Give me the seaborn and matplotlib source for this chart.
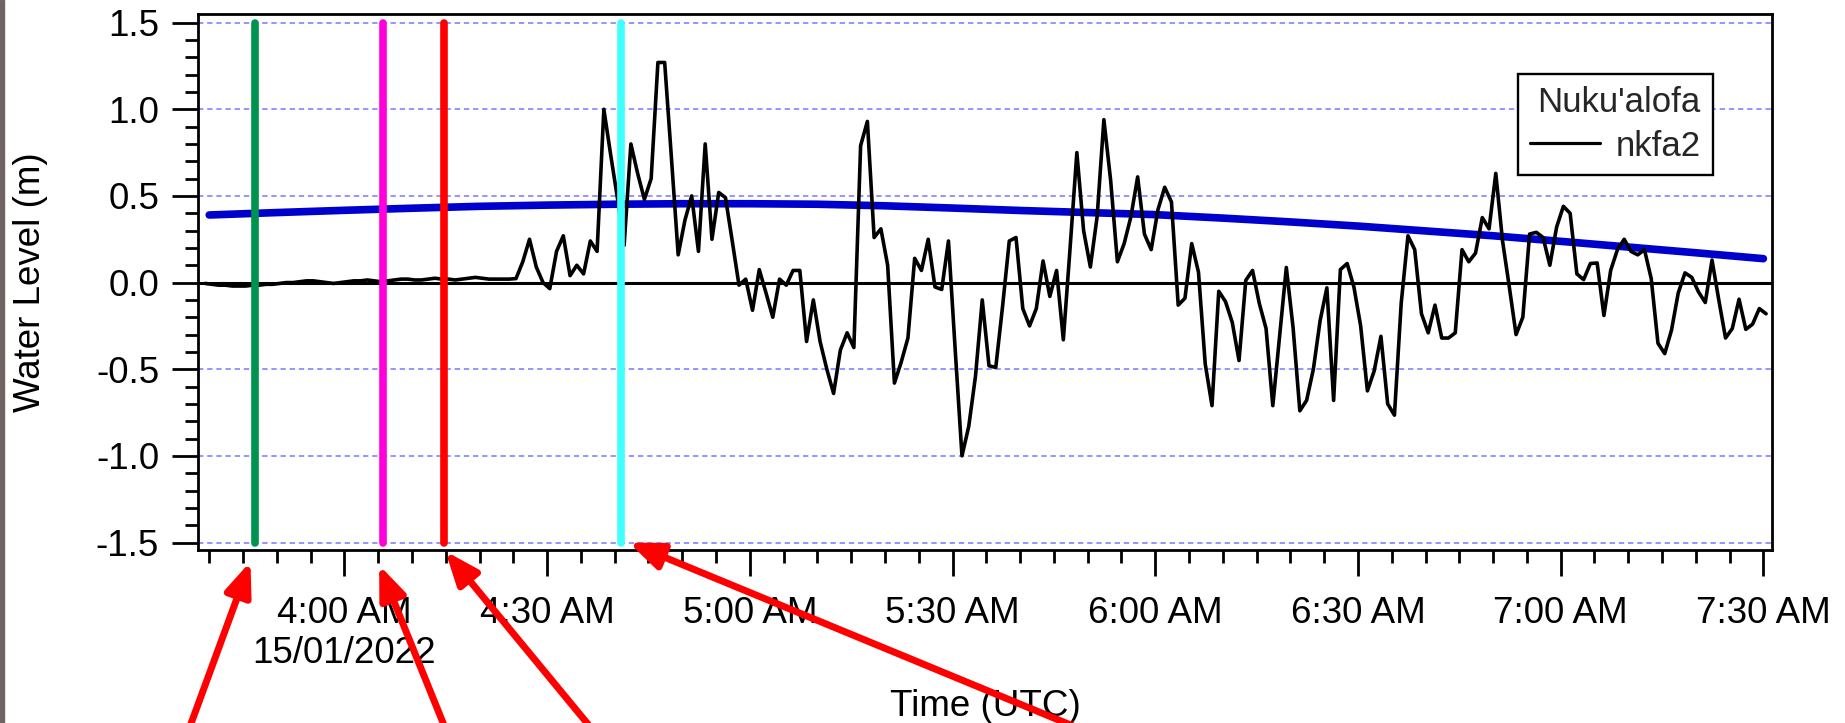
import numpy as np
import pandas as pd
import matplotlib
matplotlib.use("Agg")
import matplotlib.pyplot as plt
import matplotlib.dates as mdates
from matplotlib.ticker import MultipleLocator, FormatStrFormatter
from matplotlib.patches import Rectangle
import seaborn as sns

# --- Data ---
# nkfa2 gauge, 1-minute samples starting 03:39:24 UTC on 15/01/2022
NKFA2_START = "2022-01-15 03:39:24"
nkfa2_level = [
    # 03:39 - 03:59
    -0.005, -0.01, -0.015, -0.015, -0.02, -0.02, -0.02, -0.015, -0.015, -0.01,
    -0.01, -0.005, 0.0, 0.0, 0.005, 0.01, 0.01, 0.005, 0.0, -0.005, 0.0,
    # 04:00 - 04:24
    0.005, 0.01, 0.01, 0.015, 0.01, 0.005, 0.01, 0.015, 0.02, 0.02,
    0.015, 0.015, 0.02, 0.025, 0.02, 0.02, 0.015, 0.02, 0.025, 0.03,
    0.025, 0.02, 0.02, 0.02, 0.02,
    # 04:25 - 05:08
    0.023, 0.12, 0.25, 0.09, 0.0, -0.035, 0.18, 0.27, 0.04, 0.10,
    0.05, 0.24, 0.18, 1.00, 0.74, 0.49, 0.215, 0.80, 0.63, 0.48,
    0.60, 1.27, 1.27, 0.72, 0.16, 0.36, 0.50, 0.18, 0.80, 0.25,
    0.52, 0.49, 0.24, -0.015, 0.02, -0.16, 0.075, -0.06, -0.20, 0.02,
    -0.015, 0.07, 0.07, -0.34,
    # 05:09 - 05:56
    -0.10, -0.34, -0.50, -0.64, -0.39, -0.29, -0.375, 0.79, 0.93, 0.26,
    0.31, 0.10, -0.58, -0.46, -0.32, 0.14, 0.07, 0.25, -0.025, -0.04,
    0.24, -0.39, -1.00, -0.83, -0.54, -0.10, -0.48, -0.49, -0.14, 0.24,
    0.26, -0.15, -0.25, -0.15, 0.125, -0.08, 0.07, -0.33, 0.20, 0.75,
    0.30, 0.09, 0.38, 0.94, 0.59, 0.12, 0.225, 0.38,
    # 05:57 - 06:43
    0.61, 0.28, 0.19, 0.42, 0.55, 0.465, -0.13, -0.09, 0.225, 0.06,
    -0.47, -0.71, -0.05, -0.11, -0.23, -0.45, 0.013, 0.07, -0.12, -0.265,
    -0.71, -0.31, 0.087, -0.26, -0.74, -0.68, -0.50, -0.22, -0.03, -0.68,
    0.075, 0.11, -0.025, -0.25, -0.625, -0.51, -0.31, -0.70, -0.765, -0.12,
    0.27, 0.19, -0.18, -0.29, -0.13, -0.32, -0.32,
    # 06:44 - 07:30
    -0.29, 0.19, 0.12, 0.17, 0.375, 0.31, 0.63, 0.24, -0.025, -0.30,
    -0.20, 0.28, 0.29, 0.26, 0.10, 0.32, 0.44, 0.40, 0.05, 0.017,
    0.11, 0.113, -0.19, 0.07, 0.19, 0.25, 0.18, 0.16, 0.19, 0.023,
    -0.35, -0.41, -0.275, -0.06, 0.056, 0.03, -0.054, -0.115, 0.13, -0.10,
    -0.32, -0.265, -0.096, -0.27, -0.24, -0.15, -0.18,
]

# predicted tide, every 10 minutes from 03:40
TIDE_START = "2022-01-15 03:40:00"
tide_level = [
    0.390, 0.404, 0.417, 0.429, 0.440, 0.447, 0.452, 0.455, 0.455, 0.452,
    0.443, 0.430, 0.416, 0.404, 0.392, 0.372, 0.350, 0.326, 0.298, 0.270,
    0.238, 0.205, 0.172, 0.138,
]

# event markers (vertical lines) and the red arrows pointing at them
event_times = ["2022-01-15 03:46:45", "2022-01-15 04:05:45",
               "2022-01-15 04:14:45", "2022-01-15 04:41:00"]
event_colors = ["#00934f", "#ff00dd", "#ff0000", "#40ffff"]
arrow_tip_times = ["2022-01-15 03:46:06", "2022-01-15 04:05:09",
                   "2022-01-15 04:14:57", "2022-01-15 04:42:06"]
arrow_tip_levels = [-1.61, -1.63, -1.55, -1.50]
arrow_tail_px = [(185, -17), (450, -17), (601, -17), (1107, -17)]

tick_times = ["2022-01-15 04:00", "2022-01-15 04:30", "2022-01-15 05:00",
              "2022-01-15 05:30", "2022-01-15 06:00", "2022-01-15 06:30",
              "2022-01-15 07:00", "2022-01-15 07:30"]
tick_labels = ["4:00 AM\n15/01/2022", "4:30 AM", "5:00 AM", "5:30 AM",
               "6:00 AM", "6:30 AM", "7:00 AM", "7:30 AM"]

X_LIMITS = ("2022-01-15 03:38:20", "2022-01-15 07:31:16")
Y_LIMITS = (-1.543, 1.55)
FS = 26.5       # tick and axis labels
LEG_FS = 25     # legend

# --- Styling ---
sns.set_theme(style="white")
plt.rcParams['font.family'] = ['Liberation Sans', 'DejaVu Sans']
plt.rcParams['axes.unicode_minus'] = False


def to_num(ts):
    return mdates.date2num(pd.to_datetime(ts))


def main():
    gauge = pd.DataFrame({
        'time': pd.date_range(NKFA2_START, periods=len(nkfa2_level), freq='min'),
        'level': nkfa2_level,
    })
    tide = pd.DataFrame({
        'time': pd.date_range(TIDE_START, periods=len(tide_level), freq='10min'),
        'level': tide_level,
    })

    fig = plt.figure(figsize=(18.45, 7.23), dpi=100)
    fig.patch.set_facecolor('white')
    ax = fig.add_axes([0.1073, 0.2393, 0.8531, 0.7414])

    # grid + zero line
    ax.set_yticks(np.arange(-1.5, 1.51, 0.5))
    ax.yaxis.grid(True, which='major', color='#7878ff',
                  linestyle=(0, (3.5, 2.5)), linewidth=1.1, zorder=0)
    ax.xaxis.grid(False)
    ax.axhline(0, color='black', lw=2.2, zorder=1)

    sns.lineplot(data=tide, x='time', y='level', ax=ax, color='#0000cc',
                 lw=5.5, solid_capstyle='round', zorder=2)
    sns.lineplot(data=gauge, x='time', y='level', ax=ax, color='black',
                 lw=2.6, zorder=3)
    gauge_line = ax.lines[-1]

    for t, c in zip(event_times, event_colors):
        ax.plot([to_num(t)] * 2, [-1.5, 1.5], color=c, lw=5.5,
                solid_capstyle='round', zorder=4)

    ax.set_xlim(to_num(X_LIMITS[0]), to_num(X_LIMITS[1]))
    ax.set_ylim(*Y_LIMITS)

    # axes ticks
    ax.set_xticks([to_num(t) for t in tick_times])
    ax.set_xticklabels(tick_labels)
    ax.xaxis.set_minor_locator(mdates.MinuteLocator(byminute=range(0, 60, 5)))
    ax.yaxis.set_minor_locator(MultipleLocator(0.1))
    ax.yaxis.set_major_formatter(FormatStrFormatter('%.1f'))
    ax.tick_params(axis='both', which='major', direction='out', length=19,
                   width=2, labelsize=FS, color='black', labelcolor='black',
                   bottom=True, left=True, top=False, right=False)
    ax.tick_params(axis='both', which='minor', direction='out', length=9.5,
                   width=2, color='black', bottom=True, left=True,
                   top=False, right=False)
    ax.tick_params(axis='x', which='major', pad=14)
    ax.tick_params(axis='y', which='major', pad=9)

    for s in ax.spines.values():
        s.set_color('black')
        s.set_linewidth(2)
        s.set_visible(True)

    ax.set_xlabel('Time (UTC)', fontsize=FS, color='black')
    ax.set_ylabel('Water Level (m)', fontsize=FS, color='black')
    ax.xaxis.set_label_coords(0.5, -0.26)
    ax.yaxis.set_label_coords(-0.095, 0.5)

    leg = ax.legend(handles=[gauge_line], labels=['nkfa2'], title="Nuku'alofa",
                    loc='upper right', bbox_to_anchor=(0.9623, 0.888),
                    fontsize=LEG_FS, title_fontsize=LEG_FS, frameon=True,
                    fancybox=False, framealpha=1, edgecolor='black',
                    borderpad=0.35, handlelength=2.0, handletextpad=0.45,
                    labelspacing=0.3, borderaxespad=0, alignment='right')
    leg.get_frame().set_linewidth(1.7)
    for h in leg.legend_handles:
        h.set_linewidth(2.3)
        h.set_color('black')

    # red arrows from below the chart up to the event lines
    for t, y, tail in zip(arrow_tip_times, arrow_tip_levels, arrow_tail_px):
        ax.annotate('', xy=(to_num(t), y), xycoords='data',
                    xytext=tail, textcoords='figure pixels',
                    arrowprops=dict(arrowstyle='-|>,head_length=0.5,head_width=0.2',
                                    color='red', lw=5, shrinkA=0, shrinkB=0,
                                    mutation_scale=40),
                    annotation_clip=False, zorder=10)

    # thin dark strip at the left edge of the screenshot
    fig.patches.append(Rectangle((0, 0), 4 / 1845, 1, transform=fig.transFigure,
                                 color='#6e6464', zorder=0))

    fig.savefig('out.png', dpi=100)
    plt.close(fig)


if __name__ == '__main__':
    main()
